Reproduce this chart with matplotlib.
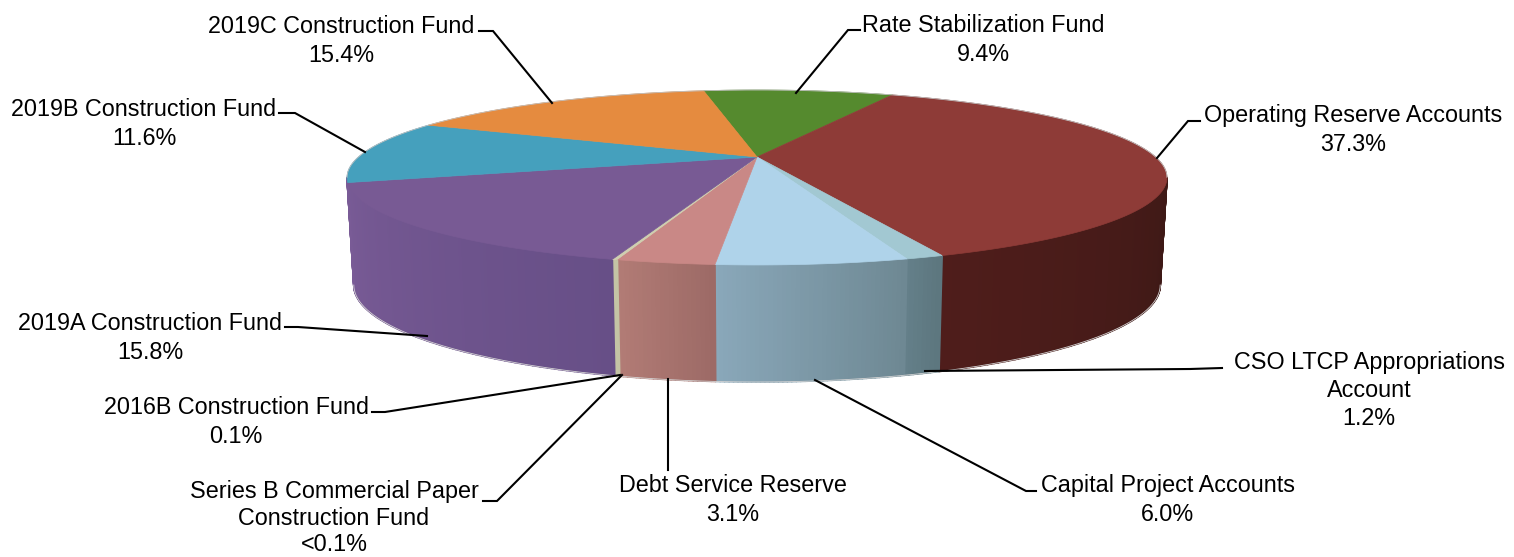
import numpy as np
from matplotlib import pyplot as plt
from matplotlib.collections import PolyCollection
from matplotlib.colors import to_rgb

plt.rcParams['font.family'] = ['Liberation Sans', 'DejaVu Sans']

# slices, clockwise from the top of the pie
funds = ['Rate Stabilization Fund', 'Operating Reserve Accounts',
         'CSO LTCP Appropriations\nAccount', 'Capital Project Accounts',
         'Debt Service Reserve', '2016B Construction Fund',
         'Series B Commercial Paper\nConstruction Fund', '2019A Construction Fund',
         '2019B Construction Fund', '2019C Construction Fund']
shares = [9.4, 37.3, 1.2, 6.0, 3.1, 0.1, 0.05, 15.8, 11.6, 15.4]
share_labels = ['9.4%', '37.3%', '1.2%', '6.0%', '3.1%', '0.1%', '<0.1%', '15.8%', '11.6%', '15.4%']

top_colors = ['#558a2e', '#8e3b37', '#a2c8d2', '#afd3ea', '#c98886',
              '#cfcfb0', '#cfcfb0', '#785a94', '#45a0bd', '#e58b3f']
wall_left = ['#558a2e', '#4f1d1b', '#64808a', '#8aa8ba', '#b27c76',
             '#c8c8aa', '#c8c8aa', '#795b96', '#795b96', '#e58b3f']
wall_right = ['#558a2e', '#3e1916', '#5c767e', '#6e8893', '#9c6a66',
              '#c0c0a0', '#c0c0a0', '#674f87', '#795b96', '#e58b3f']

# label centre x, first line y, line spacing, leader line
label_x = [983, 1353, 1369, 1168, 733, 236, 334, 150, 144, 341]
label_y = [23, 113, 360, 483, 483, 405, 489, 321, 107, 24]
label_spacing = [1.33, 1.33, 1.29, 1.33, 1.33, 1.33, 1.2, 1.33, 1.33, 1.33]
leaders = [[(796, 93), (848, 30), (860, 30)],
           [(1157, 158), (1188, 121), (1200, 121)],
           [(925, 371), (1190, 369), (1222, 368)],
           [(815, 380), (1026, 491), (1036, 491)],
           [(668, 379), (668, 470)],
           [(620, 375), (385, 412), (372, 412)],
           [(622, 375), (497, 501), (483, 501)],
           [(427, 336), (298, 327), (285, 327)],
           [(365, 152), (295, 113), (279, 113)],
           [(552, 103), (493, 31), (479, 31)]]

start_angle = 99.5
k = 0.234  # perspective of the disc


def rim(t, cy, a, b):
    t = np.radians(t)
    x, y = np.cos(t), np.sin(t)
    d = 1 + k * y
    return 757 + a * x / d, cy - b * y / d


def top_rim(t):
    return rim(t, 157, 398.6, 82.7)


def bottom_rim(t):
    return rim(t, 262.4, 392, 91.6)


fig = plt.figure(figsize=(15.14, 5.57), dpi=100)
ax = fig.add_axes([0, 0, 1, 1])
ax.set_xlim(0, 1514)
ax.set_ylim(557, 0)
ax.axis('off')

sweep = np.array(shares) / sum(shares) * 360
ends = start_angle - np.cumsum(sweep)
starts = ends + sweep

# walls, only the part that faces the viewer
for t0, t1, c0, c1 in zip(starts, ends, wall_left, wall_right):
    hi, lo = min(t0, -13.5), max(t1, -166.5)
    if hi <= lo:
        continue
    n = max(int((hi - lo) * 2), 1)
    ts = np.linspace(lo, hi, n + 1)
    polys, colors = [], []
    c0, c1 = np.array(to_rgb(c0)), np.array(to_rgb(c1))
    for i in range(n):
        xa, ya = top_rim(ts[i:i + 2])
        xb, yb = bottom_rim(ts[i:i + 2])
        polys.append(np.column_stack([np.r_[xa, xb[::-1]], np.r_[ya, yb[::-1]]]))
        colors.append(c0 + (c1 - c0) * (i + 0.5) / n)
    ax.add_collection(PolyCollection(polys, facecolors=colors, edgecolors=colors,
                                     linewidths=1.2, zorder=2))

# light edge along the bottom of the walls
ts = np.linspace(-166.5, -13.5, 300)
ax.plot(*bottom_rim(ts), color='#d4d4d4', lw=0.6, zorder=2.5)

# top of the disc
for t0, t1, c in zip(starts, ends, top_colors):
    ts = np.linspace(t0, t1, max(int(t0 - t1) * 2, 3))
    xs, ys = top_rim(ts)
    ax.fill(np.r_[757, xs], np.r_[157, ys], facecolor=c, edgecolor=c, lw=0.5, zorder=3)

ts = np.linspace(-13.5, 193.5, 400)
ax.plot(*top_rim(ts), color='#c0c0c0', lw=0.6, zorder=3.5)

# leader lines and labels
for pts in leaders:
    xs, ys = zip(*pts)
    ax.plot(xs, ys, color='black', lw=1.5, solid_joinstyle='miter', zorder=4)

for name, pct, x, y, sp in zip(funds, share_labels, label_x, label_y, label_spacing):
    ax.text(x, y - 9, name + '\n' + pct, ha='center', va='top', fontsize=16.8,
            linespacing=sp, color='black', zorder=5)

fig.savefig('out.png', dpi=100)
